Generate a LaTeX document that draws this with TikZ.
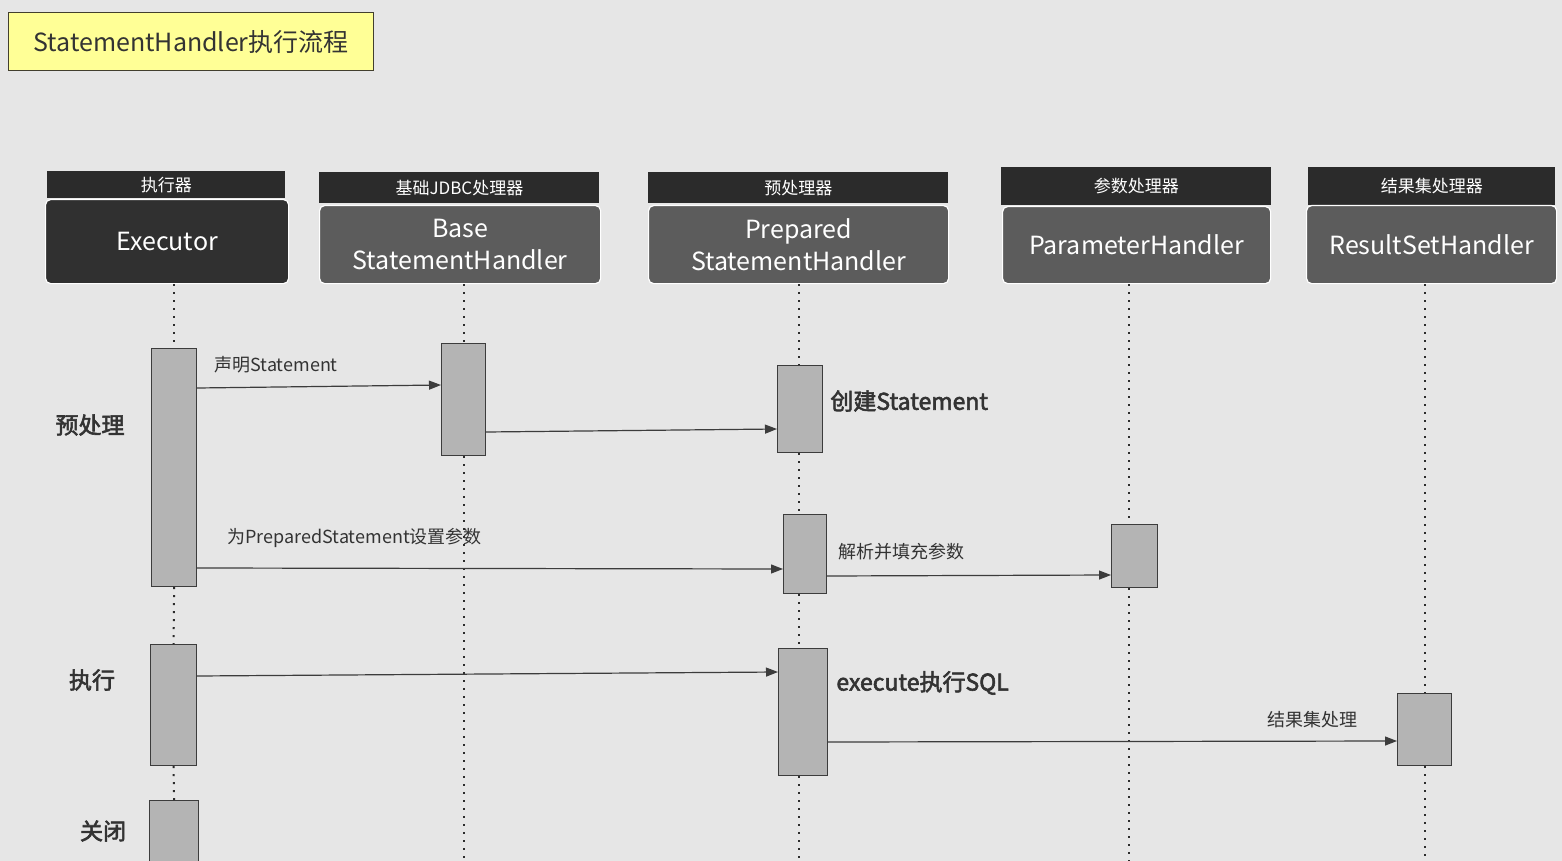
\documentclass[tikz,border=0pt]{standalone}
\usepackage{fontspec}
\setmainfont{Noto Sans CJK SC}[BoldFont={Noto Sans CJK SC},BoldFeatures={FakeBold=2.5}]
\usetikzlibrary{calc,positioning,arrows.meta}
\definecolor{bggray}{RGB}{230,230,230}
\definecolor{headblack}{RGB}{43,43,43}
\definecolor{execdark}{RGB}{48,48,48}
\definecolor{boxgray}{RGB}{92,92,92}
\definecolor{actgray}{RGB}{180,180,180}
\definecolor{lineblack}{RGB}{60,60,60}
\definecolor{titleyellow}{RGB}{255,255,150}
\definecolor{txtgray}{RGB}{51,51,51}

\tikzset{
  head/.style={fill=headblack, text=white, font=\fontsize{8.5}{10}\selectfont, inner sep=0pt, anchor=north west},
  objbox/.style={fill=boxgray, draw=white, line width=0.6pt, rounded corners=2.5pt, text=white, align=center,
    font=\fontsize{12.5}{16}\selectfont, inner sep=0pt, anchor=north west},
  act/.style={fill=actgray, draw=lineblack, line width=0.6pt, inner sep=0pt, anchor=north west},
  life/.style={draw=headblack, line width=1pt, dash pattern=on 1pt off 3pt},
  msg/.style={draw=lineblack, line width=0.6pt, -{Triangle[length=6pt,width=4.5pt]}},
  msglabel/.style={text=txtgray, font=\fontsize{9}{11}\selectfont, inner sep=0pt, anchor=west},
  phase/.style={text=txtgray, font=\fontsize{11.5}{14}\bfseries\selectfont, inner sep=0pt},
}

\begin{document}
\begin{tikzpicture}[x=0.5pt, y=-0.5pt]
  % Background
  \fill[bggray] (0,0) rectangle (1562,861);
  \useasboundingbox (0,0) rectangle (1562,861);
  \coordinate (bottom) at (0,861);

  % Title
  \node[draw=black!70!olive, fill=titleyellow, line width=0.6pt, anchor=north west, minimum width=182.5pt,
    minimum height=29pt, text=txtgray, font=\fontsize{12.5}{15}\selectfont] (title) at (8,12) {StatementHandler执行流程};

  % Objects
  \node[head, minimum width=119pt, minimum height=13.5pt] (hexec) at (47,171) {执行器};
  \node[objbox, fill=execdark, minimum width=121.5pt, minimum height=42pt] (exec) at (45,199) {Executor};
  \node[head, minimum width=140pt, minimum height=15.5pt] (hbase) at (319,172) {基础JDBC处理器};
  \node[objbox, minimum width=140.5pt, minimum height=39pt] (base) at (319,205) {Base\\StatementHandler};
  \node[head, minimum width=150pt, minimum height=15.5pt] (hprep) at (648,172) {预处理器};
  \node[objbox, minimum width=150pt, minimum height=39pt] (prep) at (648,205) {Prepared\\StatementHandler};
  \node[head, minimum width=135pt, minimum height=19pt] (hparam) at (1001,167) {参数处理器};
  \node[objbox, minimum width=134pt, minimum height=38.5pt] (param) at (1002,206) {ParameterHandler};
  \node[head, minimum width=123.5pt, minimum height=19pt] (hrs) at (1308,167) {结果集处理器};
  \node[objbox, minimum width=125pt, minimum height=39pt] (rs) at (1306,205) {ResultSetHandler};

  % Activation bars
  \node[act, minimum width=22.5pt, minimum height=119pt] (a1) at (151,348) {};
  \node[act, minimum width=23pt, minimum height=60.5pt] (a2) at (150,644) {};
  \node[act, minimum width=24.5pt, minimum height=35pt] (a3) at (149,800) {};
  \node[act, minimum width=22pt, minimum height=56pt] (b1) at (441,343) {};
  \node[act, minimum width=22.5pt, minimum height=43.5pt] (p1) at (777,365) {};
  \node[act, minimum width=21.5pt, minimum height=39.5pt] (p2) at (783,514) {};
  \node[act, minimum width=24.5pt, minimum height=63.5pt] (p3) at (778,648) {};
  \node[act, minimum width=23pt, minimum height=31.5pt] (r1) at (1111,524) {};
  \node[act, minimum width=27pt, minimum height=36pt] (s1) at (1397,693) {};
  \coordinate (rline) at ($(r1.north)+(-6,0)$);

  % Lifelines between the bars
  \draw[life] (exec.south -| a1) -- (a1.north);
  \draw[life] (a1.south) -- (a2.north);
  \draw[life] (a2.south) -- (a3.north);
  \draw[life] (base.south -| b1) -- (b1.north);
  \draw[life] (b1.south) -- (b1 |- bottom);
  \draw[life] (prep.south) -- (prep.south |- p1.north);
  \draw[life] (prep.south |- p1.south) -- (prep.south |- p2.north);
  \draw[life] (prep.south |- p2.south) -- (prep.south |- p3.north);
  \draw[life] (prep.south |- p3.south) -- (prep.south |- bottom);
  \draw[life] (param.south -| rline) -- (rline);
  \draw[life] (rline |- r1.south) -- (rline |- bottom);
  \draw[life] (rs.south -| s1) -- (s1.north);
  \draw[life] (s1.south) -- (s1 |- bottom);

  % Phases
  \node[phase] (ph1) at (90,425) {预处理};
  \node[phase] (ph2) at (92,680) {执行};
  \node[phase] (ph3) at (103,831) {关闭};

  % Messages
  \draw[msg] ($(a1.north east)+(0,40)$) -- ($(b1.north west)+(0,42)$);
  \node[msglabel] (l1) at (214,365) {声明Statement};
  \draw[msg] ($(b1.north east)+(0,89)$) -- ($(p1.north west)+(0,64)$);
  \node[phase, anchor=west] (l2) at (830,401) {创建Statement};
  \draw[msg] ($(a1.north east)+(0,220)$) -- ($(p2.north west)+(0,55)$);
  \node[msglabel] (l3) at (227,538) {为PreparedStatement设置参数};
  \draw[msg] ($(p2.north east)+(0,62)$) -- ($(r1.north west)+(0,51)$);
  \node[msglabel] (l4) at (838,552) {解析并填充参数};
  \draw[msg] ($(a2.north east)+(0,32)$) -- ($(p3.north west)+(0,24)$);
  \node[phase, anchor=west] (l5) at (836,683) {execute执行SQL};
  \draw[msg] ($(p3.north east)+(0,94)$) -- ($(s1.north west)+(0,48)$);
  \node[msglabel] (l6) at (1267,720) {结果集处理};
\end{tikzpicture}
\end{document}
